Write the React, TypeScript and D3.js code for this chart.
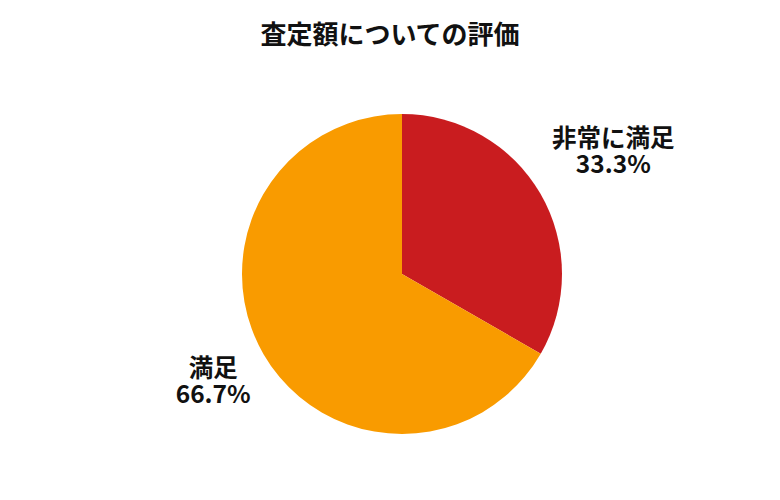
import * as d3 from "d3";

const title = "査定額についての評価";
const categories = ["非常に満足", "満足"];
const values = [33.3, 66.7];
const colors = ["#c91c1f", "#f99b00"];

export default function App() {
  const width = 780;
  const height = 500;
  const cx = 402;
  const cy = 274;
  const radius = 160;
  const fontFamily = "'Noto Sans CJK JP', 'Noto Sans', sans-serif";

  const data = categories.map((c, i) => ({ label: c, value: values[i], color: colors[i] }));

  const pie = d3
    .pie<{ label: string; value: number; color: string }>()
    .value((d) => d.value)
    .sort(null);

  const arc = d3
    .arc<d3.PieArcDatum<{ label: string; value: number; color: string }>>()
    .innerRadius(0)
    .outerRadius(radius);

  const arcs = pie(data);
  const labelRadius = radius + 16;
  const lineHeight = 26;

  return (
    <svg
      width={width}
      height={height}
      style={{ display: "block", margin: -8, background: "#fff" }}
    >
      <text
        x={390}
        y={44}
        textAnchor="middle"
        fontFamily={fontFamily}
        fontWeight="bold"
        fontSize={26}
        fill="#111"
      >
        {title}
      </text>

      <g transform={`translate(${cx},${cy})`}>
        {arcs.map((a) => (
          <path key={a.data.label} d={arc(a)!} fill={a.data.color} />
        ))}
      </g>

      {/* labels: box corner sits just outside the slice edge */}
      {arcs.map((a) => {
        const mid = (a.startAngle + a.endAngle) / 2;
        const px = cx + Math.sin(mid) * labelRadius;
        const py = cy - Math.cos(mid) * labelRadius;
        const right = Math.sin(mid) > 0;
        const above = Math.cos(mid) > 0;
        const boxW = Math.max(a.data.label.length * 24.8, 5 * 15);
        const centerX = right ? px + boxW / 2 - 3 : px - boxW / 2 + 1;
        const topY = above ? py - 2 * lineHeight - 8 : py - 6;
        return (
          <g key={a.data.label}>
            <text
              x={centerX}
              y={topY + 21}
              textAnchor="middle"
              fontFamily={fontFamily}
              fontWeight="bold"
              fontSize={24.5}
              fill="#111"
            >
              {a.data.label}
            </text>
            <text
              x={centerX}
              y={topY + 21 + lineHeight}
              textAnchor="middle"
              fontFamily={fontFamily}
              fontWeight="bold"
              fontSize={24.5}
              fill="#111"
            >
              {`${a.data.value.toFixed(1)}%`}
            </text>
          </g>
        );
      })}
    </svg>
  );
}
